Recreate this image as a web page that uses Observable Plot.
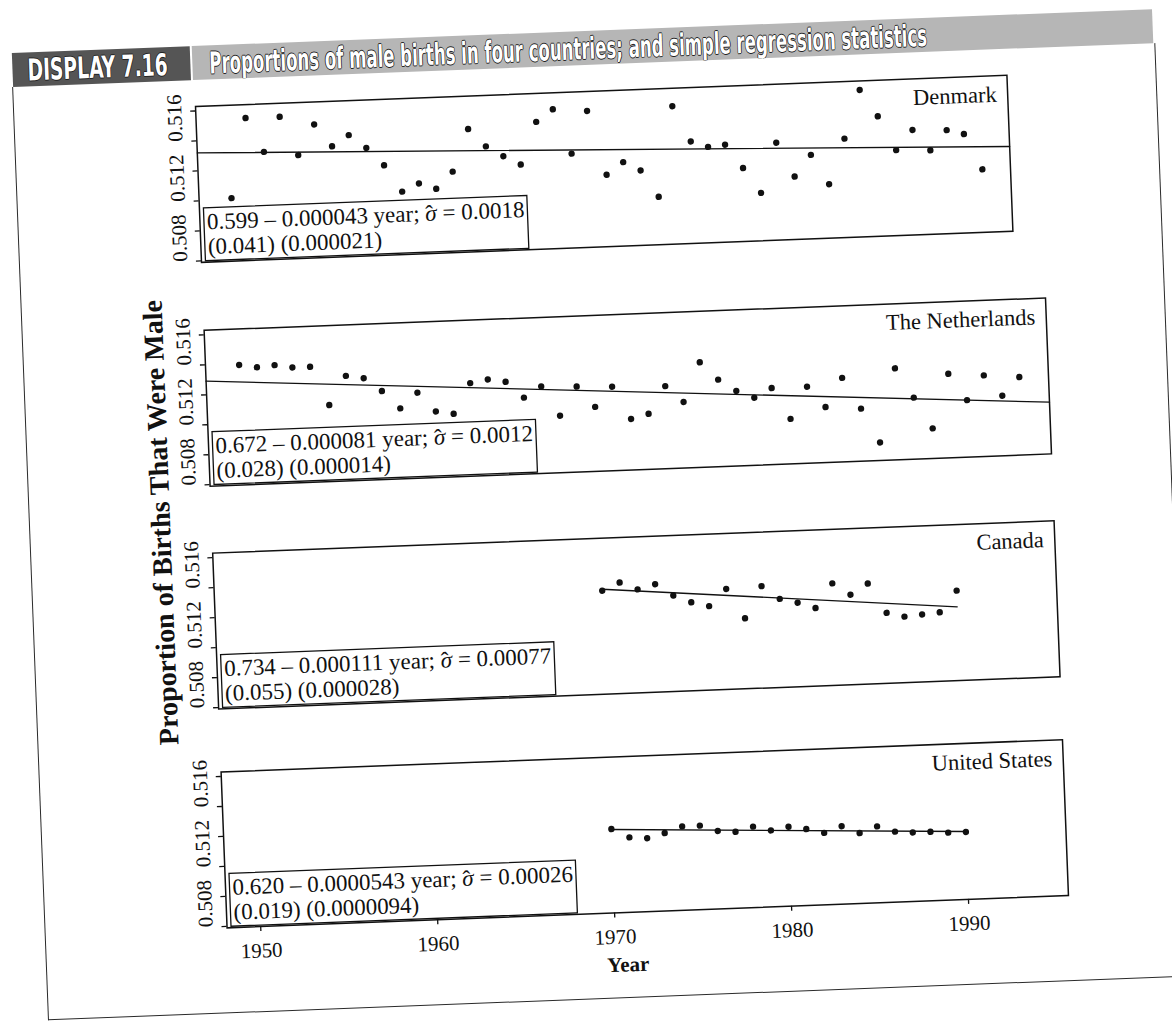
<!DOCTYPE html>
<html>
<head>
<meta charset="utf-8">
<script src="https://cdn.jsdelivr.net/npm/d3@7"></script>
<script src="https://cdn.jsdelivr.net/npm/@observablehq/plot@0.6"></script>
<style>
  html, body { margin: 0; padding: 0; background: #fff; width: 1172px; height: 1022px; overflow: hidden; }
  #page { position: absolute; left: 0; top: 0; width: 1172px; height: 1022px;
          transform-origin: 195px 106px; transform: rotate(-2.2deg); }
  .abs { position: absolute; }
  #hdrDark { left: 14px; top: 46px; width: 178px; height: 34px; background: #555; overflow: hidden; }
  #hdrBar  { left: 194px; top: 46px; width: 961px; height: 34px; background: #b6b6b6; overflow: hidden; }
  .hdrText { position: absolute; top: 52%; transform-origin: left center; white-space: nowrap;
             font-family: 'Liberation Sans Narrow', 'DejaVu Sans Condensed', 'Liberation Sans', sans-serif;
             font-weight: bold; color: #fff; font-size: 30px; line-height: 1;
             text-shadow: -1px 0 #222, 1px 0 #222, 0 -1px #222, 0 1px #222; }
  #pageFrame { left: 13px; top: 80px; width: 1142px; height: 933px;
               border-left: 1.5px solid #2a2a2a; border-right: 1.5px solid #2a2a2a; border-bottom: 1.5px solid #2a2a2a; }
  #ylab { left: 145px; top: 521px; transform: translate(-50%, -50%) rotate(-90deg); white-space: nowrap;
          font-family: 'Liberation Serif', 'Times New Roman', serif; font-weight: bold; font-size: 28px; color: #111; }
  #xlab { left: 595px; top: 981px; transform: translate(-50%, -50%); white-space: nowrap;
          font-family: 'Liberation Serif', 'Times New Roman', serif; font-weight: bold; font-size: 21px; color: #111; }
  .panel { position: absolute; }
</style>
</head>
<body>
<div id="page">
  <div id="pageFrame" class="abs"></div>
  <div id="hdrDark" class="abs"><span id="dispText" class="hdrText">DISPLAY 7.16</span></div>
  <div id="hdrBar" class="abs"><span id="titleText" class="hdrText">Proportions of male births in four countries; and simple regression statistics</span></div>
  <div id="ylab" class="abs">Proportion of Births That Were Male</div>
  <div id="xlab" class="abs">Year</div>
</div>
<script>
// ---------------- data ----------------
const countries = ["Denmark", "The Netherlands", "Canada", "United States"];

const yearsLong = [1950,1951,1952,1953,1954,1955,1956,1957,1958,1959,
                   1960,1961,1962,1963,1964,1965,1966,1967,1968,1969,
                   1970,1971,1972,1973,1974,1975,1976,1977,1978,1979,
                   1980,1981,1982,1983,1984,1985,1986,1987,1988,1989,
                   1990,1991,1992,1993,1994];
const yearsShort = [1970,1971,1972,1973,1974,1975,1976,1977,1978,1979,
                    1980,1981,1982,1983,1984,1985,1986,1987,1988,1989,1990];

const denmark = [0.5121,0.5174,0.5151,0.5174,0.5148,0.5168,0.5153,0.5160,0.5151,0.5139,
                 0.5121,0.5126,0.5122,0.5133,0.5161,0.5149,0.5142,0.5136,0.5164,0.5172,
                 0.5142,0.5170,0.5127,0.5135,0.5129,0.5111,0.5171,0.5147,0.5143,0.5144,
                 0.5128,0.5111,0.5144,0.5121,0.5135,0.5115,0.5145,0.5177,0.5159,0.5136,
                 0.5149,0.5135,0.5148,0.5145,0.5121];
const netherlands = [0.5159,0.5157,0.5158,0.5156,0.5156,0.5130,0.5149,0.5147,0.5138,0.5126,
                     0.5136,0.5123,0.5121,0.5141,0.5143,0.5141,0.5130,0.5137,0.5117,0.5136,
                     0.5122,0.5135,0.5113,0.5116,0.5134,0.5123,0.5149,0.5137,0.5129,0.5124,
                     0.5130,0.5109,0.5130,0.5116,0.5135,0.5114,0.5091,0.5140,0.5120,0.5099,
                     0.5135,0.5117,0.5133,0.5119,0.5131];
const canada = [0.5148,0.5153,0.5148,0.5151,0.5143,0.5138,0.5135,0.5146,0.5126,0.5147,
                0.5138,0.5135,0.5131,0.5147,0.5139,0.5146,0.5126,0.5123,0.5124,0.5125,0.5139];
const unitedStates = [0.5135,0.5129,0.5128,0.5131,0.5135,0.5135,0.5131,0.5130,0.5133,0.5130,
                      0.5132,0.5130,0.5127,0.5131,0.5126,0.5130,0.5126,0.5125,0.5125,0.5124,0.5124];

// fitted lines: [year, proportion] at both ends
const fitDenmark      = [[1948.1, 0.5152], [1995.65, 0.51355]];
const fitNetherlands  = [[1948.1, 0.51491], [1995.65, 0.51135]];
const fitCanada       = [[1970, 0.51490], [1990, 0.51282]];
const fitUnitedStates = [[1970, 0.51347], [1990, 0.51243]];

const statsLine1 = ["0.599 \u2013 0.000043 year; \u03C3 = 0.0018",
                    "0.672 \u2013 0.000081 year; \u03C3 = 0.0012",
                    "0.734 \u2013 0.000111 year; \u03C3 = 0.00077",
                    "0.620 \u2013 0.0000543 year; \u03C3 = 0.00026"];
const statsLine2 = ["(0.041) (0.000021)", "(0.028) (0.000014)", "(0.055) (0.000028)", "(0.019) (0.0000094)"];

const yTicks = [0.508, 0.510, 0.512, 0.514, 0.516, 0.518];
const yTickLabels = [0.508, 0.512, 0.516];
const xTicks = [1950, 1960, 1970, 1980, 1990];
const xDomain = [1948.1, 1995.65];
const yDomain = [0.5079, 0.5183];

// ---------------- layout ----------------
const serif = "'Liberation Serif', 'Times New Roman', serif";
const frameLeft = 195;
const frameTops = [106, 330, 552.5, 772];
const frameWidths = [812, 842, 842, 842];
const frameHeight = 156;
const mL = 45, mR = 6, mT = 4, mB = 4, mBlast = 50;

const seriesVals = [denmark, netherlands, canada, unitedStates];
const seriesYears = [yearsLong, yearsLong, yearsShort, yearsShort];
const fits = [fitDenmark, fitNetherlands, fitCanada, fitUnitedStates];

const page = document.getElementById("page");
const svgNS = "http://www.w3.org/2000/svg";

countries.forEach((name, i) => {
  const last = i === countries.length - 1;
  const data = seriesYears[i].map((yr, j) => ({year: yr, p: seriesVals[i][j]}));
  const fit = fits[i].map(([yr, p]) => ({year: yr, p}));
  const marginBottom = last ? mBlast : mB;
  const marks = [
    Plot.axisY({ticks: yTicks, tickSize: 5, tickFormat: () => "", label: null, strokeWidth: 1.3, stroke: "#111"}),
    Plot.text(yTickLabels, {y: d => d, text: d => d.toFixed(3), frameAnchor: "left", dx: -21,
                            rotate: -90, fontSize: 21, fill: "#111"}),
    Plot.line(fit, {x: "year", y: "p", stroke: "#111", strokeWidth: 1.3}),
    Plot.dot(data, {x: "year", y: "p", r: 3.2, fill: "#111", stroke: null}),
    Plot.text([name], {text: d => d, frameAnchor: "top-right", dx: -11, dy: 10, textAnchor: "end",
                       lineAnchor: "top", fontSize: 22.5, fill: "#111"}),
    Plot.frame({stroke: "#111", strokeWidth: 1.5}),
    Plot.text([statsLine1[i] + "\n" + statsLine2[i]], {text: d => d, frameAnchor: "bottom-left", dx: 7, dy: -8,
                       textAnchor: "start", lineAnchor: "bottom", lineHeight: 1.08, fontSize: 23, fill: "#111"})
  ];
  if (last) {
    marks.push(Plot.axisX({ticks: xTicks, tickSize: 5, tickPadding: 11, tickFormat: d => String(d),
                           label: null, fontSize: 21, stroke: "#111", strokeWidth: 1.3}));
  }
  const svg = Plot.plot({
    width: mL + frameWidths[i] + mR,
    height: mT + frameHeight + marginBottom,
    marginLeft: mL, marginRight: mR, marginTop: mT, marginBottom: marginBottom,
    x: last ? {domain: xDomain} : {domain: xDomain, axis: null},
    y: {domain: yDomain},
    style: {fontFamily: serif, fontSize: "21px", background: "transparent", overflow: "visible", color: "#111"},
    marks
  });
  const wrap = document.createElement("div");
  wrap.className = "panel";
  wrap.style.left = (frameLeft - mL) + "px";
  wrap.style.top = (frameTops[i] - mT) + "px";
  wrap.appendChild(svg);
  page.appendChild(wrap);

  // white box behind the regression statistics; italic sigma with a hat
  const t = Array.from(svg.querySelectorAll("text")).find(el => el.textContent.includes("year;"));
  if (t) {
    t.querySelectorAll("tspan").forEach(ts => {
      const s = ts.textContent;
      const k = s.indexOf("\u03C3");
      if (k >= 0) {
        while (ts.firstChild) ts.removeChild(ts.firstChild);
        ts.appendChild(document.createTextNode(s.slice(0, k)));
        const sig = document.createElementNS(svgNS, "tspan");
        sig.setAttribute("font-style", "italic");
        sig.textContent = "\u03C3";
        ts.appendChild(sig);
        const hat = document.createElementNS(svgNS, "tspan");
        hat.setAttribute("dx", "-0.48em");
        hat.setAttribute("dy", "0.02em");
        hat.textContent = "\u02C6";
        ts.appendChild(hat);
        const rest = document.createElementNS(svgNS, "tspan");
        rest.setAttribute("dx", "0.15em");
        rest.setAttribute("dy", "-0.02em");
        rest.textContent = s.slice(k + 1);
        ts.appendChild(rest);
      }
    });
    const bb = t.getBBox();
    const rect = document.createElementNS(svgNS, "rect");
    rect.setAttribute("x", bb.x - 3);
    rect.setAttribute("y", bb.y - 1.5);
    rect.setAttribute("width", bb.width + 6);
    rect.setAttribute("height", bb.height + 3);
    rect.setAttribute("fill", "#fff");
    rect.setAttribute("stroke", "#111");
    rect.setAttribute("stroke-width", "1.3");
    if (t.getAttribute("transform")) rect.setAttribute("transform", t.getAttribute("transform"));
    t.parentNode.insertBefore(rect, t);
  }
});

// fit the condensed header texts to their measured widths in the picture
function fitText(id, left, width) {
  const el = document.getElementById(id);
  const natural = el.offsetWidth;
  el.style.left = left + "px";
  el.style.transform = "translateY(-50%) scaleX(" + (width / natural) + ")";
}
fitText("dispText", 15, 140);
fitText("titleText", 17, 718);
</script>
</body>
</html>
